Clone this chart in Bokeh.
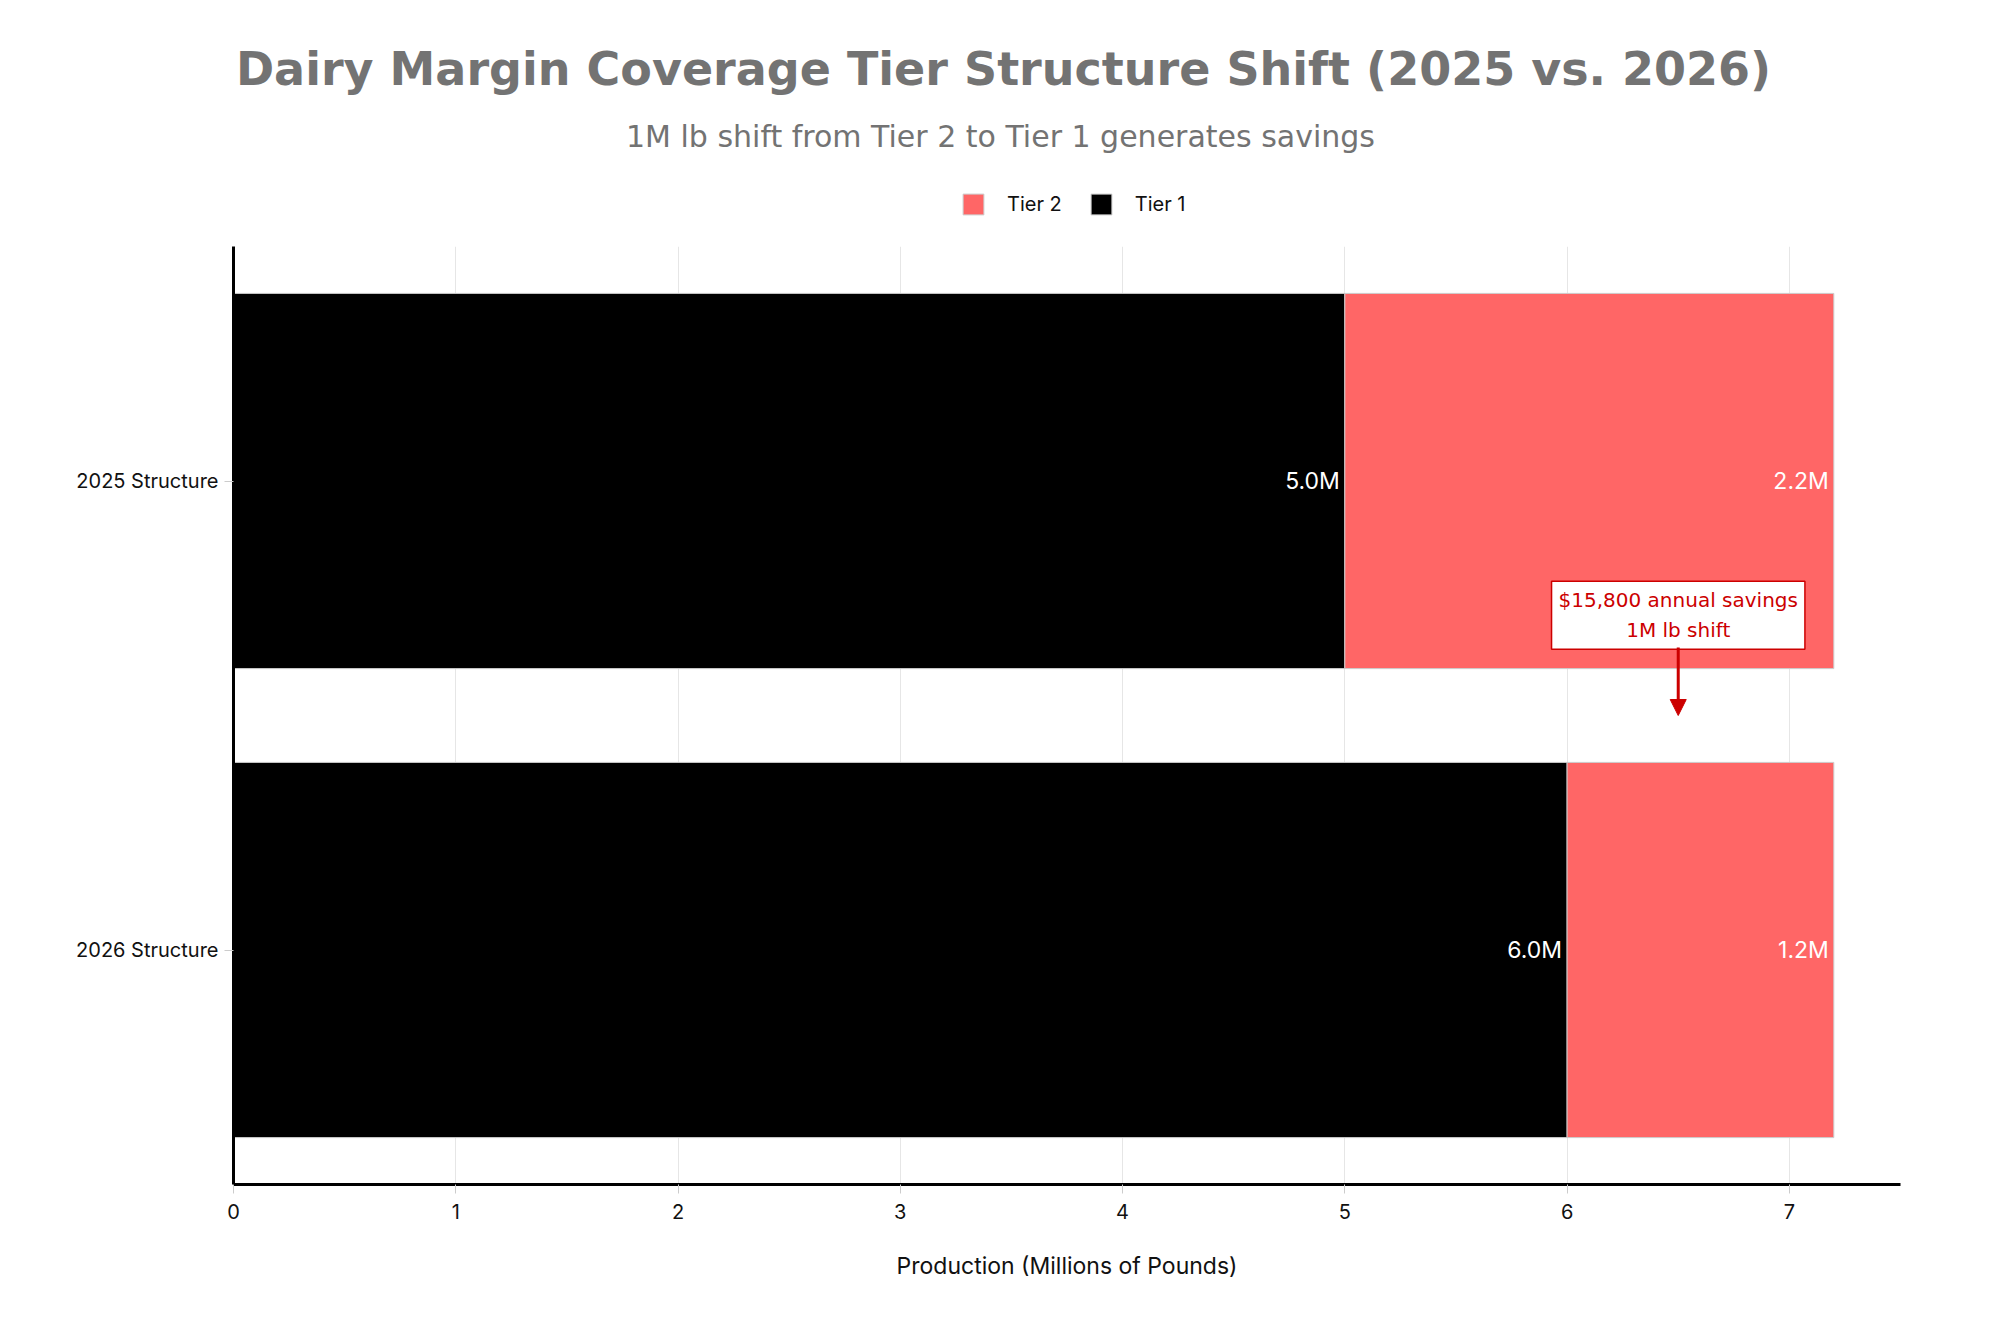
from bokeh.plotting import figure
from bokeh.layouts import column
from bokeh.models import (ColumnDataSource, FactorRange, Legend, LegendItem,
                          Label, Arrow, NormalHead, Range1d, FixedTicker)
from bokeh.core.properties import value
from bokeh.embed import file_html
from bokeh.resources import INLINE

# ---- data ----
categories = ["2025 Structure", "2026 Structure"]
tier1 = [5.0, 6.0]
tier2 = [2.2, 1.2]
x_ticks = [0, 1, 2, 3, 4, 5, 6, 7]
series_names = ["Tier 2", "Tier 1"]
title_text = "Dairy Margin Coverage Tier Structure Shift (2025 vs. 2026)"
subtitle_text = "1M lb shift from Tier 2 to Tier 1 generates savings"
note_text = "$15,800 annual savings\n1M lb shift"

TIER2_COLOR = "#FF6666"
TIER1_COLOR = "#000000"
GREY = "#737373"
RED = "#CC0000"
FONT = "Inter"

W = 1984
HH = 226            # header height
MH = 1317 - HH      # main figure height
FL, FR = 233, 1900  # frame left / right (page px); layout aligns both frames

# ---------------- header (title, subtitle, legend) ----------------
hdr = figure(width=W, height=HH, output_backend="svg", toolbar_location=None,
             x_range=Range1d(FL, FR), y_range=Range1d(0, HH),
             x_axis_type=None, y_axis_type=None, min_border=0, title=None,
             min_border_left=FL, min_border_right=W - FR)
hdr.outline_line_color = None
hdr.grid.grid_line_color = None

hdr.add_layout(Label(x=1003, y=HH - 68, text=title_text, text_align="center",
                     text_baseline="middle", text_font="DejaVu Sans",
                     text_font_size="46px", text_font_style="bold",
                     text_color=GREY))
hdr.add_layout(Label(x=1000, y=HH - 136, text=subtitle_text, text_align="center",
                     text_baseline="middle", text_font="DejaVu Sans",
                     text_font_size="30px", text_color=GREY))

# hidden proxies carrying the series styles for the legend swatches
proxy = ColumnDataSource(dict(y=[0, 0], l=[0, 0], r=tier2))
lg2 = hdr.hbar(y="y", left="l", right="r", height=1, source=proxy,
               fill_color=TIER2_COLOR, line_color="#cccccc", line_width=1,
               visible=False)
lg1 = hdr.hbar(y="y", left="l", right="r", height=1, source=proxy,
               fill_color=TIER1_COLOR, line_color="#cccccc", line_width=1,
               visible=False)
legend = Legend(items=[LegendItem(label=series_names[0], renderers=[lg2], index=0),
                       LegendItem(label=series_names[1], renderers=[lg1], index=0)],
                orientation="horizontal", location=(960 - FL, 9),
                border_line_color=None, background_fill_alpha=0,
                label_text_font=FONT, label_text_font_size="20px",
                label_text_color="#111111", inactive_fill_alpha=0,
                glyph_width=26, glyph_height=26, label_standoff=21,
                spacing=26, padding=0, margin=0)
hdr.add_layout(legend, "center")

# ---------------- main chart ----------------
totals = [a + b for a, b in zip(tier1, tier2)]
src = ColumnDataSource(dict(
    cat=categories, t1=tier1, t2=tier2, tot=totals,
    zero=[0] * len(categories),
    lab1=[f"{v:.1f}M" for v in tier1],
    lab2=[f"{v:.1f}M" for v in tier2],
))

p = figure(width=W, height=MH, output_backend="svg", toolbar_location=None,
           y_range=FactorRange(factors=list(reversed(categories)), range_padding=0),
           x_range=Range1d(0, 7.5), title=None,
           min_border_left=FL, min_border_right=W - FR, min_border_bottom=133,
           min_border_top=246 - HH)
p.outline_line_color = None
p.background_fill_color = "white"

r1 = p.hbar(y="cat", left="zero", right="t1", height=0.8, source=src,
            fill_color=TIER1_COLOR, line_color="#cccccc", line_width=1)
r2 = p.hbar(y="cat", left="t1", right="tot", height=0.8, source=src,
            fill_color=TIER2_COLOR, line_color="#cccccc", line_width=1)

p.text(x="t1", y="cat", text="lab1", source=src, text_align="right",
       text_baseline="middle", x_offset=-5, text_color="white",
       text_font=value(FONT), text_font_size="23px")
p.text(x="tot", y="cat", text="lab2", source=src, text_align="right",
       text_baseline="middle", x_offset=-5, text_color="white",
       text_font=value(FONT), text_font_size="23px")

# annotation
note = Label(x=6.5, y=1.214, text=note_text, text_align="center",
             text_baseline="middle", text_color=RED, text_font="DejaVu Sans",
             text_font_size="20px", text_line_height=1.25,
             background_fill_color="white", border_line_color=RED,
             border_line_width=1.5, padding=7)
p.add_layout(note)
p.add_layout(Arrow(end=NormalHead(size=16, fill_color=RED, line_color=RED),
                   x_start=6.5, y_start=1.145, x_end=6.5, y_end=1.0,
                   line_color=RED, line_width=3))

# axes
p.xaxis.ticker = FixedTicker(ticks=x_ticks)
p.xaxis.axis_label = "Production (Millions of Pounds)"
p.xaxis.axis_label_text_font = FONT
p.xaxis.axis_label_text_font_size = "23px"
p.xaxis.axis_label_text_font_style = "normal"
p.xaxis.axis_label_text_color = "#111111"
p.xaxis.axis_label_standoff = 30
for ax in (p.xaxis, p.yaxis):
    ax.axis_line_color = "black"
    ax.axis_line_width = 3
    ax.major_tick_line_color = "#cccccc"
    ax.major_tick_out = 9
    ax.major_tick_in = 0
    ax.minor_tick_line_color = None
    ax.major_label_text_font = FONT
    ax.major_label_text_font_size = "20px"
    ax.major_label_text_color = "#111111"
p.xaxis.major_label_standoff = 10
p.yaxis.major_label_standoff = 6

p.xgrid.grid_line_color = "#e6e6e6"
p.xgrid.grid_line_width = 1
p.ygrid.grid_line_color = None

layout = column(hdr, p, spacing=0)
open("out.html", "w").write(file_html(layout, INLINE))
